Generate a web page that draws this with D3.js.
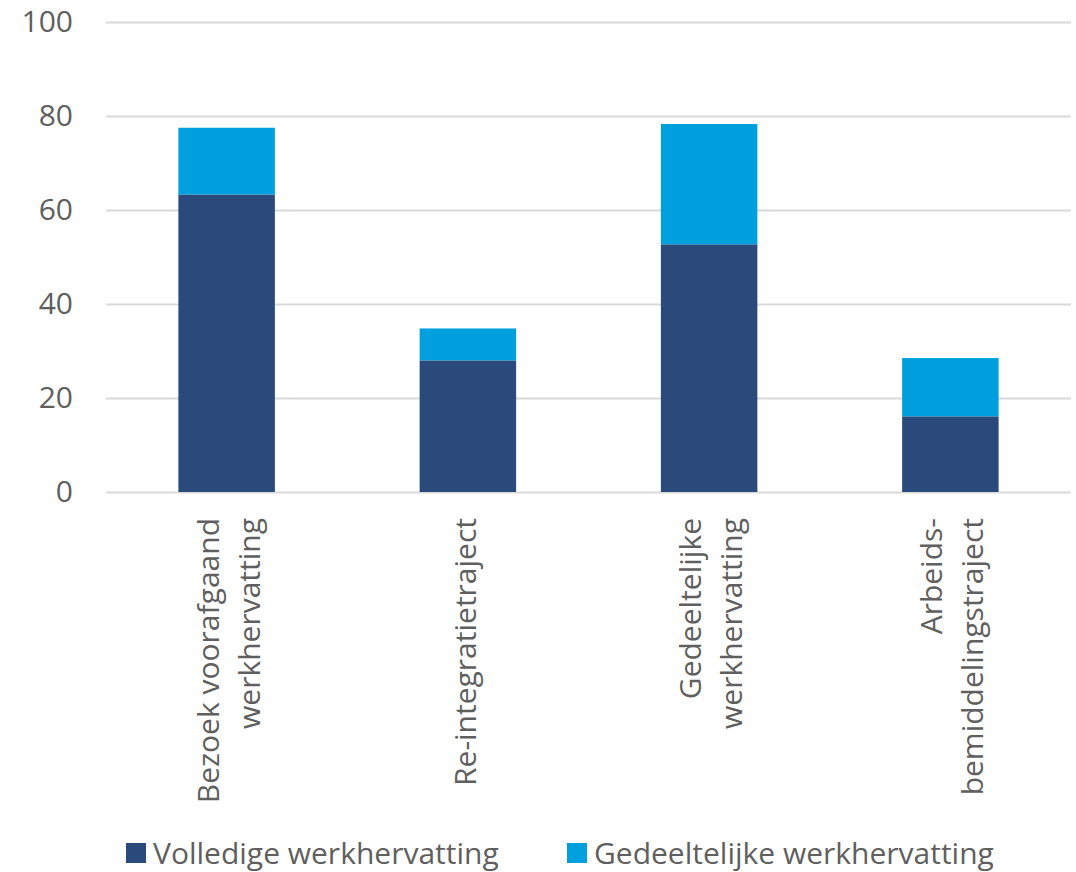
<!DOCTYPE html>
<html>
<head>
<meta charset="utf-8">
<script src="https://cdn.jsdelivr.net/npm/d3@7"></script>
<style>
  html, body { margin: 0; padding: 0; background: #ffffff; }
  svg { display: block; font-family: "Open Sans", "Noto Sans", sans-serif; font-weight: 400; }
</style>
</head>
<body>
<svg id="chart" width="1076" height="872"></svg>
<script>
// ---- data ----
const categories = [
  ["Bezoek voorafgaand", "werkhervatting"],
  ["Re-integratietraject"],
  ["Gedeeltelijke", "werkhervatting"],
  ["Arbeids-", "bemiddelingstraject"]
];
const seriesNames = ["Volledige werkhervatting", "Gedeeltelijke werkhervatting"];
const volledige = [63.3, 28.0, 52.7, 16.1];
const gedeeltelijk = [14.2, 6.8, 25.6, 12.4];
const yTicks = [0, 20, 40, 60, 80, 100];
const colors = ["#2A4A7C", "#00A0DF"];

// ---- layout ----
const svg = d3.select("#chart");
const margin = { left: 106, right: 5, top: 22 };
const W = 1076;
const plotBottom = 492;
const textColor = "#5f5f5f";

const keys = categories.map(c => c.join(" "));
const rows = keys.map((k, i) => ({ key: k, v0: volledige[i], v1: gedeeltelijk[i] }));

const x = d3.scaleBand()
  .domain(keys)
  .range([margin.left, W - margin.right])
  .paddingInner(0.6)
  .paddingOuter(0.3);

const y = d3.scaleLinear().domain([0, 100]).range([plotBottom, margin.top]);

// gridlines
const grid = d3.axisLeft(y).tickValues(yTicks).tickSize(-(W - margin.right - margin.left)).tickFormat("");
svg.append("g")
  .attr("transform", `translate(${margin.left},0)`)
  .call(grid)
  .call(g => g.select(".domain").remove())
  .call(g => g.selectAll("line").attr("stroke", "#d9d9d9").attr("stroke-width", 2));

// y tick labels
const yAxis = d3.axisLeft(y).tickValues(yTicks).tickSize(0).tickPadding(33);
svg.append("g")
  .attr("transform", `translate(${margin.left},0)`)
  .call(yAxis)
  .call(g => g.select(".domain").remove())
  .call(g => g.selectAll("text")
    .attr("fill", textColor)
    .attr("font-size", 30)
    .attr("font-family", "'Open Sans', sans-serif"));

// stacked bars
const stack = d3.stack().keys(["v0", "v1"]);
const stacked = stack(rows);
svg.append("g").selectAll("g")
  .data(stacked)
  .join("g")
  .attr("fill", (d, i) => colors[i])
  .selectAll("rect")
  .data(d => d)
  .join("rect")
  .attr("x", d => x(d.data.key))
  .attr("width", x.bandwidth())
  .attr("y", d => y(d[1]))
  .attr("height", d => y(d[0]) - y(d[1]));

// category labels (rotated, multi-line, end anchored at top)
const fs = 30, lh = 41;
const labG = svg.append("g");
categories.forEach((lines, i) => {
  const cx = x(keys[i]) + x.bandwidth() / 2;
  const n = lines.length;
  lines.forEach((t, j) => {
    const bx = cx + (j - (n - 1) / 2) * lh + 0.35 * fs + (n > 1 ? 2 : -2);
    labG.append("text")
      .attr("transform", `translate(${bx},518) rotate(-90)`)
      .attr("text-anchor", "end")
      .attr("font-size", fs)
      .attr("fill", textColor)
      .text(t);
  });
});

// legend
const legendX = [126, 567];
const leg = svg.append("g");
seriesNames.forEach((name, i) => {
  leg.append("rect")
    .attr("x", legendX[i]).attr("y", 843)
    .attr("width", 20).attr("height", 20)
    .attr("fill", colors[i]);
  leg.append("text")
    .attr("x", legendX[i] + 27).attr("y", 864)
    .attr("font-size", 30)
    .attr("fill", textColor)
    .text(name);
});
</script>
</body>
</html>
